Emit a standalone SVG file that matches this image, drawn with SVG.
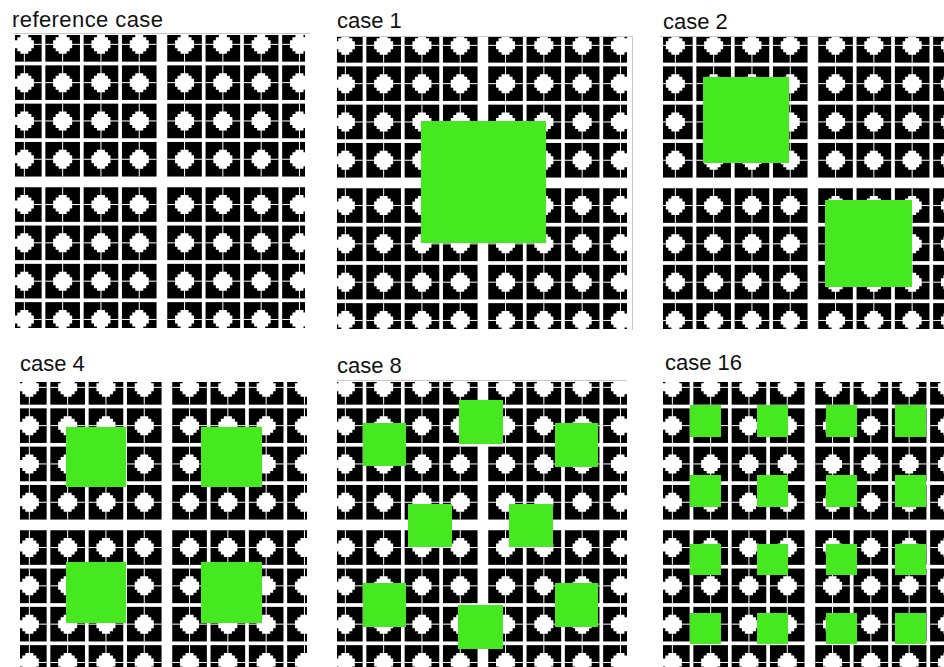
<svg xmlns="http://www.w3.org/2000/svg" xmlns:xlink="http://www.w3.org/1999/xlink" width="944" height="667" viewBox="0 0 944 667">
<style>
.lbl{font-family:"Liberation Sans",Arial,sans-serif;font-size:22px;fill:#111}
.g{fill:#46e81f}
.rule{stroke:#c8c8c8;stroke-width:1;fill:none}
</style>
<defs>
<g id="tile">
<rect x="-17.3" y="-17.3" width="34.6" height="34.6" fill="#000"/>
<rect x="-0.5" y="-17.3" width="1" height="34.6" fill="#fff"/>
<rect x="-17.3" y="-0.5" width="34.6" height="1" fill="#fff"/>
<polygon fill="#fff" points="-4,-9.5 4,-9.5 4,-7 7,-7 7,-4 9.5,-4 9.5,4 7,4 7,7 4,7 4,9.5 -4,9.5 -4,7 -7,7 -7,4 -9.5,4 -9.5,-4 -7,-4 -7,-7 -4,-7"/>
</g>
<g id="row">
<use href="#tile" x="17.65" y="17.65"/>
<use href="#tile" x="55.95" y="17.65"/>
<use href="#tile" x="94.25" y="17.65"/>
<use href="#tile" x="132.55" y="17.65"/>
</g>
<g id="block">
<use href="#row" y="0"/>
<use href="#row" y="38.3"/>
<use href="#row" y="76.6"/>
<use href="#row" y="114.9"/>
</g>
<g id="quad">
<use href="#block" x="0" y="0"/>
<use href="#block" x="160.2" y="0"/>
<use href="#block" x="0" y="160.2"/>
<use href="#block" x="160.2" y="160.2"/>
</g>
<clipPath id="c0"><rect x="15" y="35" width="290" height="293"/></clipPath>
<clipPath id="c1"><rect x="337" y="37" width="290" height="292"/></clipPath>
<clipPath id="c2"><rect x="663" y="37" width="281" height="292"/></clipPath>
<clipPath id="c4"><rect x="20" y="382" width="287" height="285"/></clipPath>
<clipPath id="c8"><rect x="337" y="382" width="290" height="285"/></clipPath>
<clipPath id="c16"><rect x="663" y="382" width="281" height="285"/></clipPath>
</defs>
<rect width="944" height="667" fill="#fff"/>

<g id="panel-reference">
<text class="lbl" x="12" y="27" textLength="151" lengthAdjust="spacing">reference case</text>
<line class="rule" x1="14" y1="33.5" x2="310" y2="33.5" stroke="#e6e6e6"/>
<g clip-path="url(#c0)"><use href="#quad" transform="translate(6.7,26.7)"/></g>
</g>

<g id="panel-case1">
<text class="lbl" x="337" y="28">case 1</text>
<path class="rule" d="M337,36.5 H632.5 V330"/>
<g clip-path="url(#c1)"><use href="#quad" transform="translate(327.7,27.7)"/></g>
<rect class="g" x="421" y="121" width="125" height="122"/>
</g>

<g id="panel-case2">
<text class="lbl" x="663" y="29">case 2</text>
<line class="rule" x1="660" y1="36.5" x2="944" y2="36.5"/>
<g clip-path="url(#c2)"><use href="#quad" transform="translate(657.7,27.7)"/></g>
<rect class="g" x="703" y="77" width="86" height="86"/>
<rect class="g" x="825" y="200" width="87" height="87"/>
</g>

<g id="panel-case4">
<text class="lbl" x="20" y="371">case 4</text>
<g clip-path="url(#c4)"><use href="#quad" transform="translate(11.7,369.7)"/></g>
<rect class="g" x="66" y="427" width="60" height="60"/>
<rect class="g" x="201" y="427" width="61" height="60"/>
<rect class="g" x="66" y="562" width="60" height="61"/>
<rect class="g" x="201" y="562" width="61" height="61"/>
</g>

<g id="panel-case8">
<text class="lbl" x="337" y="373">case 8</text>
<line class="rule" x1="337" y1="380.5" x2="627" y2="380.5"/>
<g clip-path="url(#c8)"><use href="#quad" transform="translate(327.7,369.7)"/></g>
<rect class="g" x="363" y="423" width="43" height="43"/>
<rect class="g" x="459" y="400" width="44" height="44"/>
<rect class="g" x="555" y="423" width="43" height="44"/>
<rect class="g" x="408" y="504" width="44" height="43"/>
<rect class="g" x="509" y="504" width="44" height="43"/>
<rect class="g" x="363" y="583" width="43" height="44"/>
<rect class="g" x="458" y="605" width="45" height="44"/>
<rect class="g" x="555" y="583" width="43" height="44"/>
</g>

<g id="panel-case16">
<text class="lbl" x="665" y="370">case 16</text>
<g clip-path="url(#c16)"><use href="#quad" transform="translate(654.7,369.7)"/></g>
<rect class="g" x="690" y="405" width="31" height="32"/>
<rect class="g" x="757" y="405" width="31" height="32"/>
<rect class="g" x="826" y="405" width="31" height="32"/>
<rect class="g" x="895" y="405" width="31" height="32"/>
<rect class="g" x="690" y="475" width="31" height="32"/>
<rect class="g" x="757" y="475" width="31" height="32"/>
<rect class="g" x="826" y="475" width="31" height="32"/>
<rect class="g" x="895" y="475" width="31" height="32"/>
<rect class="g" x="690" y="544" width="31" height="31"/>
<rect class="g" x="757" y="544" width="31" height="31"/>
<rect class="g" x="826" y="544" width="31" height="31"/>
<rect class="g" x="895" y="544" width="31" height="31"/>
<rect class="g" x="690" y="613" width="31" height="31"/>
<rect class="g" x="757" y="613" width="31" height="31"/>
<rect class="g" x="826" y="613" width="31" height="31"/>
<rect class="g" x="895" y="613" width="31" height="31"/>
</g>
</svg>
